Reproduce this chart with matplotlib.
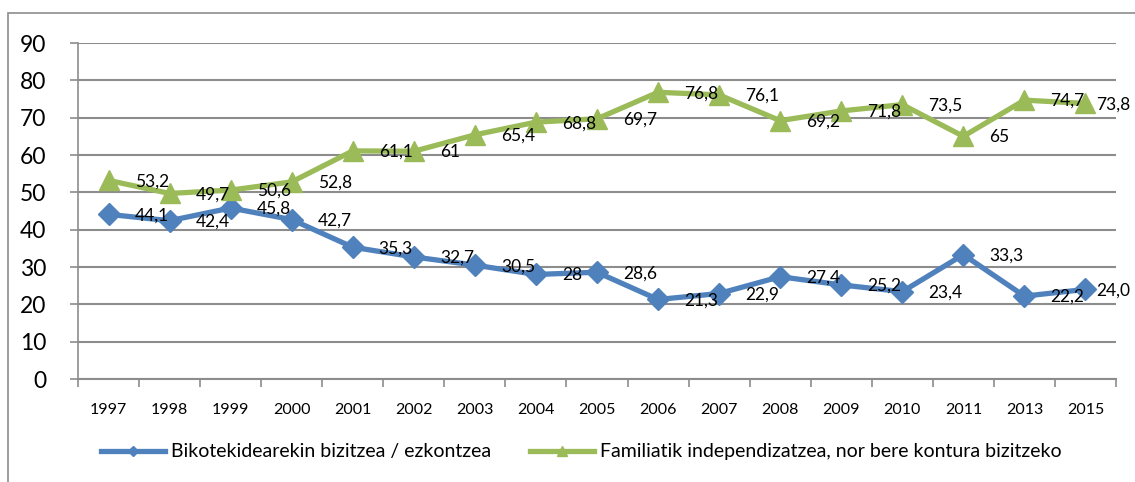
import matplotlib.pyplot as plt
from matplotlib.patches import Rectangle
import numpy as np

plt.rcParams['font.family'] = ['Lato', 'DejaVu Sans']

years = ["1997", "1998", "1999", "2000", "2001", "2002", "2003", "2004", "2005",
         "2006", "2007", "2008", "2009", "2010", "2011", "2013", "2015"]

bikote = [44.1, 42.4, 45.8, 42.7, 35.3, 32.7, 30.5, 28, 28.6,
          21.3, 22.9, 27.4, 25.2, 23.4, 33.3, 22.2, 24.0]
bikote_labels = ["44,1", "42,4", "45,8", "42,7", "35,3", "32,7", "30,5", "28", "28,6",
                 "21,3", "22,9", "27,4", "25,2", "23,4", "33,3", "22,2", "24,0"]

familia = [53.2, 49.7, 50.6, 52.8, 61.1, 61, 65.4, 68.8, 69.7,
           76.8, 76.1, 69.2, 71.8, 73.5, 65, 74.7, 73.8]
familia_labels = ["53,2", "49,7", "50,6", "52,8", "61,1", "61", "65,4", "68,8", "69,7",
                  "76,8", "76,1", "69,2", "71,8", "73,5", "65", "74,7", "73,8"]

series_names = ["Bikotekidearekin bizitzea / ezkontzea",
                "Familiatik independizatzea, nor bere kontura bizitzeko"]

blue = "#4F81BD"
green = "#9BBB59"
grid_c = "#8C8C8C"

fig = plt.figure(figsize=(11.35, 4.82), dpi=100)
ax = fig.add_axes([78 / 1135, 1 - 379 / 482, (1116 - 78) / 1135, (379 - 43) / 482])

# chart border
fig.patches.append(Rectangle((8 / 1135, -0.1), 1.2, 1 - 13 / 482 + 0.1,
                             transform=fig.transFigure, fill=False,
                             edgecolor="#8C8C8C", lw=1.2))

x = np.arange(len(years))
l1, = ax.plot(x, bikote, color=blue, lw=3.8, marker="D", ms=11, zorder=3)
l2, = ax.plot(x, familia, color=green, lw=3.8, marker="^", ms=15, zorder=3)

# labels to the right of the points; the last one is pushed in to stay inside
for vals, labs in [(bikote, bikote_labels), (familia, familia_labels)]:
    for xi, v, s in zip(x, vals, labs):
        dx = 11 if xi == len(years) - 1 else 26
        ax.annotate(s, (xi, v), xytext=(dx, -1), textcoords="offset pixels",
                    ha="left", va="center", fontsize=12.5, zorder=4)

ax.set_xlim(-0.5, len(years) - 0.5)
ax.set_ylim(0, 90)
ax.set_yticks(range(0, 91, 10))
ax.tick_params(axis="y", labelsize=16.5, length=6, width=1.2, color=grid_c, pad=17)
ax.set_xticks(x, years)
ax.set_xticks(np.arange(-0.5, len(years), 1), minor=True)
ax.tick_params(axis="x", which="major", length=0, labelsize=11.5, pad=17)
ax.tick_params(axis="x", which="minor", length=6, width=1.2, color=grid_c)

ax.grid(axis="y", color=grid_c, lw=1.5)
ax.set_axisbelow(True)
for side in ["top", "right"]:
    ax.spines[side].set_visible(False)
ax.spines["left"].set_color(grid_c)
ax.spines["left"].set_linewidth(1.2)
ax.spines["bottom"].set_color(grid_c)
ax.spines["bottom"].set_linewidth(1.5)

fig.legend([l1, l2], series_names, loc="center", bbox_to_anchor=(0.512, 1 - 452 / 482),
           ncol=2, frameon=False, fontsize=14, handlelength=3.3, markerscale=0.45,
           columnspacing=2.0, handletextpad=0.3)

fig.savefig("out.png", dpi=100)
